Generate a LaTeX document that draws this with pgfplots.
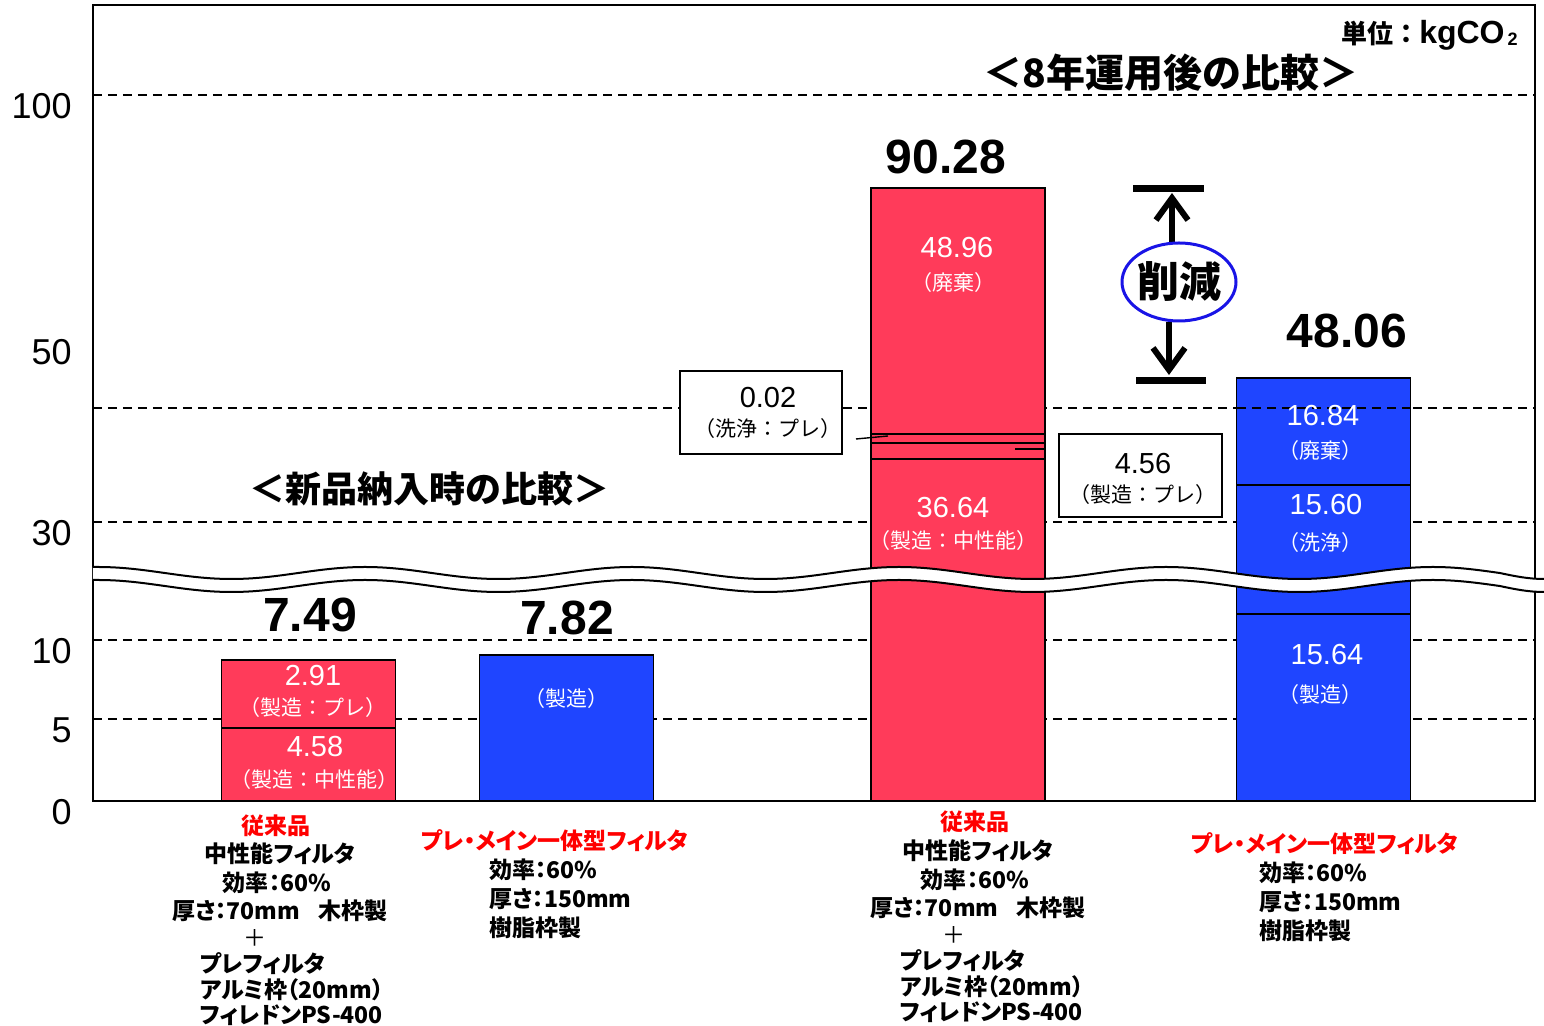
\documentclass[border=0pt]{standalone}
\usepackage{pgfplots}
\pgfplotsset{compat=1.18}
\usepackage{fontspec}
\usetikzlibrary{arrows.meta}
\setmainfont{Liberation Sans}
\newfontfamily\cjk{Noto Sans CJK JP}
\newfontfamily\cjkp{Noto Sans CJK JP}[RawFeature=+palt]
\definecolor{barred}{RGB}{255,59,90}
\definecolor{barblue}{RGB}{31,69,255}
\definecolor{ellblue}{RGB}{25,20,230}
\newcommand\fs[1]{\fontsize{#1}{#1}\selectfont}
\newcommand\wave[1]{(axis cs:93,{234+#1}) -- (axis cs:98,{234+#1}) cos (axis cs:164.75,{228+#1}) sin (axis cs:231.5,{222+#1}) cos (axis cs:298.25,{228+#1}) sin (axis cs:365,{234+#1}) cos (axis cs:431.75,{228+#1}) sin (axis cs:498.5,{222+#1}) cos (axis cs:565.25,{228+#1}) sin (axis cs:632,{234+#1}) cos (axis cs:698.75,{228+#1}) sin (axis cs:765.5,{222+#1}) cos (axis cs:832.25,{228+#1}) sin (axis cs:899,{234+#1}) cos (axis cs:965.75,{228+#1}) sin (axis cs:1032.5,{222+#1}) cos (axis cs:1099.25,{228+#1}) sin (axis cs:1166,{234+#1}) cos (axis cs:1232.75,{228+#1}) sin (axis cs:1299.5,{222+#1}) cos (axis cs:1366.25,{228+#1}) sin (axis cs:1433,{234+#1}) cos (axis cs:1499.75,{228+#1}) sin (axis cs:1544,{222+#1})}
\tikzset{
  bl/.style={font=\cjkp\bfseries\fs{11.5}, inner sep=0pt},
  bll/.style={bl, anchor=west},
  inb/.style={font=\cjk\fs{10.5}, text=white, inner sep=0pt},
  inn/.style={font=\fs{14.5}, text=white, inner sep=0pt},
  big/.style={font=\bfseries\fs{24}, inner sep=0pt},
  bars/.style={ybar, bar width=174, bar shift=0pt, draw=black, line width=0.9pt},
  gridd/.style={black, line width=0.9pt, dash pattern=on 4.5pt off 3pt},
}
\begin{document}
\begin{tikzpicture}
\begin{axis}[
  x=0.5pt, y=0.5pt,
  xmin=93, xmax=1535, ymin=0, ymax=796,
  clip=false,
  axis line style={black, line width=1pt},
  xtick=\empty,
  ytick={0,82,161,279,460,706},
  yticklabels={0,5,10,30,50,100},
  major tick length=0pt,
  /pgf/number format/assume math mode=true,
  yticklabel style={font=\fs{18}, inner sep=0pt, anchor=east, xshift=-10.5pt, yshift=-5.5pt},
  extra y ticks={82,161,279,393,706},
  extra y tick labels={},
  extra y tick style={grid=major},
  major grid style={gridd},
]
% bars drawn in display units (pixel heights), tallest segment first
\addplot[bars, fill=barred] coordinates {(308.5,141) (958,613)};
\addplot[bars, fill=barblue] coordinates {(566.5,146) (1323.5,423)};
\addplot[bars, fill=barred] coordinates {(958,367)};
\addplot[bars, fill=barred] coordinates {(958,358)};
\addplot[bars, fill=barred] coordinates {(308.5,73) (958,342)};
\addplot[bars, fill=barblue] coordinates {(1323.5,316)};
\addplot[bars, fill=barblue] coordinates {(1323.5,187)};

% grid line seen over the right bar
\draw[gridd] (axis cs:1237,393) -- (axis cs:1410,393);

% axis break
\draw[white, line width=6.5pt] \wave{-6.5};
\draw[black, line width=1pt] \wave{0};
\draw[black, line width=1pt] \wave{-13};

% totals
\node[big] at (axis cs:310,186) {7.49};
\node[big] at (axis cs:567,183) {7.82};
\node[big] at (axis cs:946,644) {90.28};
\node[big] at (axis cs:1347,470) {48.06};

% inside bars
\node[inn] at (axis cs:313,125) {2.91};
\node[inb] at (axis cs:313,93) {（製造：プレ）};
\node[inn] at (axis cs:315,54) {4.58};
\node[inb] at (axis cs:315,21) {（製造：中性能）};
\node[inb] at (axis cs:566,102) {（製造）};
\node[inn] at (axis cs:957,553) {48.96};
\node[inb] at (axis cs:953,518) {（廃棄）};
\node[inn] at (axis cs:953,293) {36.64};
\node[inb] at (axis cs:953,260) {（製造：中性能）};
\node[inn] at (axis cs:1323,385) {16.84};
\node[inb] at (axis cs:1320,350) {（廃棄）};
\node[inn] at (axis cs:1326,296) {15.60};
\node[inb] at (axis cs:1320,258) {（洗浄）};
\node[inn] at (axis cs:1327,146) {15.64};
\node[inb] at (axis cs:1320,106) {（製造）};

% callouts
\draw[line width=0.7pt, fill=white] (axis cs:680,430) rectangle (axis cs:842,347);
\node[font=\fs{14.5}, inner sep=0pt] at (axis cs:768,403) {0.02};
\node[font=\cjk\fs{10.5}, inner sep=0pt] at (axis cs:768,372) {（洗浄：プレ）};
\draw[line width=0.7pt] (axis cs:856,362) -- (axis cs:888,365);
\draw[line width=0.7pt, fill=white] (axis cs:1059,367) rectangle (axis cs:1222,284);
\node[font=\fs{14.5}, inner sep=0pt] at (axis cs:1143,337) {4.56};
\node[font=\cjk\fs{10.5}, inner sep=0pt] at (axis cs:1143,306) {（製造：プレ）};
\draw[line width=0.7pt] (axis cs:1015,352) -- (axis cs:1045,352);

% reduction marker
\draw[line width=3.5pt] (axis cs:1133,612) -- (axis cs:1204,612);
\draw[line width=3pt, -{Straight Barb[length=11pt, width=16pt]}] (axis cs:1172,558) -- (axis cs:1172,608);
\draw[line width=3.5pt] (axis cs:1136,420) -- (axis cs:1206,420);
\draw[line width=3pt, -{Straight Barb[length=11pt, width=16pt]}] (axis cs:1169,479) -- (axis cs:1169,426);
\draw[ellblue, line width=1.5pt, fill=white] (axis cs:1179,519) ellipse [x radius=28.5pt, y radius=19.5pt];
\node[font=\cjk\bfseries\fs{21}, inner sep=0pt] at (axis cs:1179,519) {削減};

% titles
\node[font=\cjk\bfseries\fs{18}, inner sep=0pt] at (axis cs:430,312) {＜新品納入時の比較＞};
\node[font=\cjk\bfseries\fs{19.5}, inner sep=0pt] at (axis cs:1171,728) {＜8年運用後の比較＞};
\node[anchor=east, inner sep=0pt] at (axis cs:1518,766) {{\cjk\bfseries\fs{13}単位：}{\bfseries\fs{16}kgCO\hspace{1.5pt}\raisebox{-1pt}{\fs{9}2}}};

% category descriptions
\node[bl, text=red] at (axis cs:276,-25) {従来品};
\node[bl] at (axis cs:280,-53) {中性能フィルタ};
\node[bl] at (axis cs:277,-82) {効率：60\%};
\node[bl] at (axis cs:280,-110) {厚さ：70mm\hspace{0.8em}木枠製};
\node[font=\cjk\fs{11.5}, inner sep=0pt] at (axis cs:255,-137) {＋};
\node[bll] at (axis cs:200,-163) {プレフィルタ};
\node[bll] at (axis cs:200,-189) {アルミ枠（20mm）};
\node[bll] at (axis cs:200,-214) {フィレドンPS-400};

\node[bl, text=red] at (axis cs:555,-40) {プレ・メイン一体型フィルタ};
\node[bll] at (axis cs:489,-69) {効率：60\%};
\node[bll] at (axis cs:489,-98) {厚さ：150mm};
\node[bll] at (axis cs:489,-127) {樹脂枠製};

\node[bl, text=red] at (axis cs:975,-21) {従来品};
\node[bl] at (axis cs:978,-50) {中性能フィルタ};
\node[bl] at (axis cs:975,-79) {効率：60\%};
\node[bl] at (axis cs:978,-107) {厚さ：70mm\hspace{0.8em}木枠製};
\node[font=\cjk\fs{11.5}, inner sep=0pt] at (axis cs:954,-134) {＋};
\node[bll] at (axis cs:900,-160) {プレフィルタ};
\node[bll] at (axis cs:900,-186) {アルミ枠（20mm）};
\node[bll] at (axis cs:900,-211) {フィレドンPS-400};

\node[bl, text=red] at (axis cs:1325,-43) {プレ・メイン一体型フィルタ};
\node[bll] at (axis cs:1259,-72) {効率：60\%};
\node[bll] at (axis cs:1259,-101) {厚さ：150mm};
\node[bll] at (axis cs:1259,-130) {樹脂枠製};

\coordinate (BL) at (axis cs:0,-225);
\coordinate (TR) at (axis cs:1544,801);
\end{axis}
\pgfresetboundingbox
\path[use as bounding box] (BL) rectangle (TR);
\end{tikzpicture}
\end{document}
